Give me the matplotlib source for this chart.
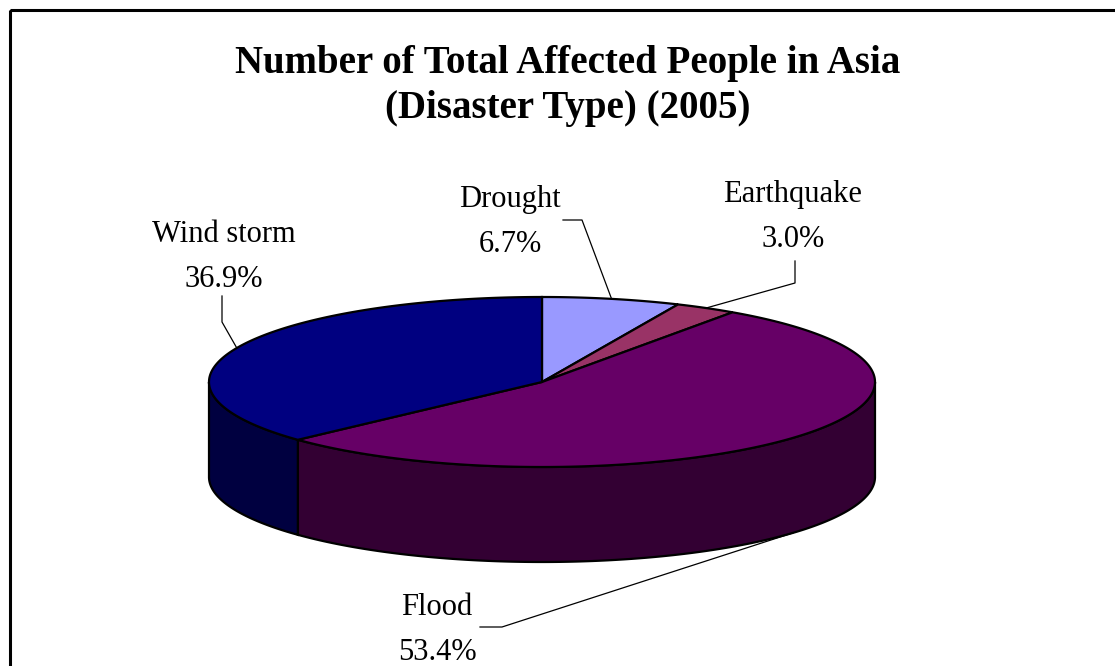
import numpy as np
import matplotlib
matplotlib.use("Agg")
import matplotlib.pyplot as plt
from matplotlib.patches import Polygon, Rectangle

# ---- data ----
categories = ["Drought", "Earthquake", "Flood", "Wind storm"]
percent = [6.7, 3.0, 53.4, 36.9]
title = "Number of Total Affected People in Asia\n(Disaster Type) (2005)"

# ---- style ----
top_colors = ["#9999FF", "#993366", "#660066", "#000080"]
side_colors = ["#4C4C80", "#4C1933", "#330033", "#000040"]
label_pos = [(510, 222), (793, 217), (437, 630), (224, 257)]
elbows = [((563, 220), (582, 220)), ((795, 261), (795, 283)),
          ((480, 627), (502, 627)), ((222, 296), (222, 322))]

W, H = 1115, 666
fig = plt.figure(figsize=(W / 100, H / 100), dpi=100)
ax = fig.add_axes([0, 0, 1, 1])
ax.set_xlim(0, W)
ax.set_ylim(H, 0)
ax.axis("off")

# frame
ax.add_patch(Rectangle((9.5, 9.5), W + 20, H + 20, fill=False, ec="black", lw=2.2, zorder=0))

cx, cy, rx, ry, depth = 542, 382, 333, 85, 95
vals = np.array(percent, dtype=float)
fr = vals / vals.sum()
starts = np.concatenate([[0], np.cumsum(fr)[:-1]]) * 360
ends = np.cumsum(fr) * 360


def pt(theta, dy=0.0):
    t = np.deg2rad(theta)
    return cx + rx * np.sin(t), cy - ry * np.cos(t) + dy


# side walls (front half: 90..270)
for s, e, c in zip(starts, ends, side_colors):
    a, b = max(s, 90), min(e, 270)
    if b <= a:
        continue
    th = np.linspace(a, b, 200)
    x, y = pt(th)
    xb, yb = pt(th[::-1], depth)
    poly = np.column_stack([np.concatenate([x, xb]), np.concatenate([y, yb])])
    ax.add_patch(Polygon(poly, closed=True, fc=c, ec="black", lw=1.6, zorder=2))

# top faces
for s, e, c in zip(starts, ends, top_colors):
    th = np.linspace(s, e, 300)
    x, y = pt(th)
    poly = np.column_stack([np.concatenate([[cx], x]), np.concatenate([[cy], y])])
    ax.add_patch(Polygon(poly, closed=True, fc=c, ec="black", lw=1.6, zorder=3))

# labels and leader lines
for name, p, s, e, (lx, ly), (p1, p2) in zip(categories, percent, starts, ends, label_pos, elbows):
    mid = (s + e) / 2
    front = 90 < mid < 270
    ax_, ay_ = pt(mid, depth if front else 0)
    ax.plot([p1[0], p2[0], ax_], [p1[1], p2[1], ay_], color="black", lw=0.9, zorder=4)
    ax.text(lx, ly, f"{name}\n{p:.1f}%", ha="center", va="center", fontsize=22,
            family="Liberation Serif", linespacing=1.75, zorder=5)

ax.text(568, 86, title, ha="center", va="center", fontsize=28, fontweight="bold",
        family="Liberation Serif", linespacing=1.27)

fig.savefig("out.png", dpi=100)
